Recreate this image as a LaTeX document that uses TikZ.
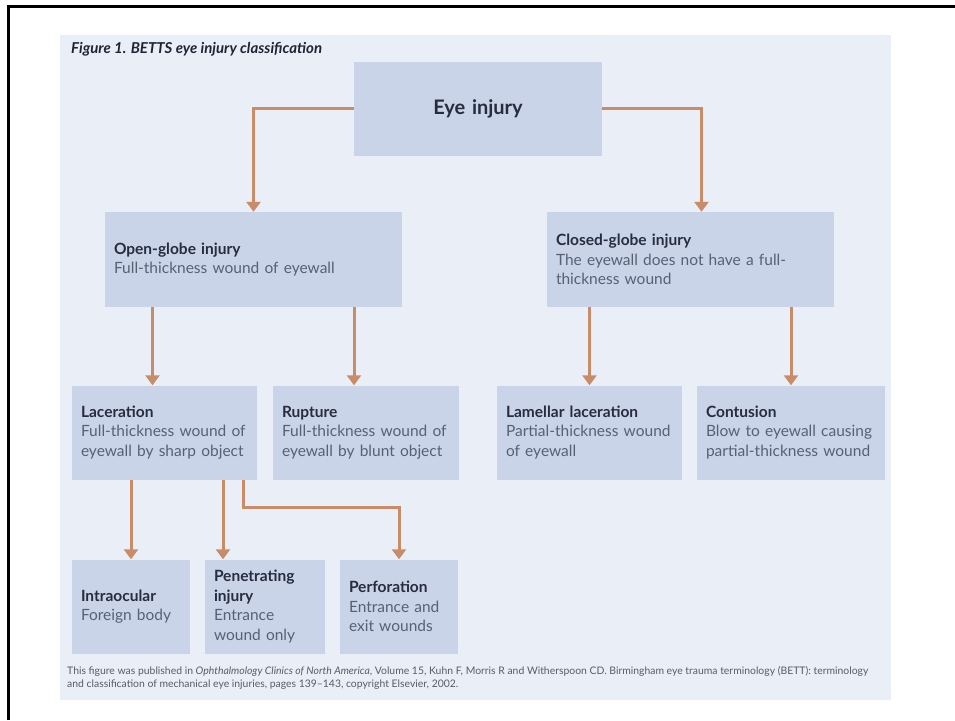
\documentclass[tikz,border=0pt]{standalone}
\usepackage{fontspec}
\setmainfont{Lato}
\usetikzlibrary{arrows.meta}
\definecolor{panelbg}{RGB}{234,238,246}
\definecolor{boxbg}{RGB}{201,212,232}
\definecolor{arrowc}{RGB}{200,140,104}
\definecolor{headc}{RGB}{40,44,64}
\definecolor{bodyc}{RGB}{88,96,116}
\definecolor{notec}{RGB}{90,92,100}
\tikzset{
  >={Triangle[width=14pt,length=10pt]},
  x=1pt, y=-1pt,
}
\tikzstyle{box}=[fill=boxbg,inner xsep=9pt,inner ysep=0pt,minimum height=94pt,align=left,text=bodyc,font=\fontsize{15.5}{19.5}\selectfont]
\tikzstyle{link}=[line width=3pt,arrowc,->]
\newcommand{\hd}[1]{\textbf{\color{headc}#1}}

\begin{document}
\begin{tikzpicture}
    \useasboundingbox (0,0) rectangle (955,720);
    \fill[panelbg] (60,35) rectangle (891,700);
    \draw[line width=3pt] (8,720)--(8,6.5)--(955,6.5);

    \node[anchor=base west,inner sep=0pt,text=headc!80!black,font=\fontsize{15}{18}\selectfont\bfseries\itshape] (title) at (71,53) {Figure 1. BETTS eye injury classification};

    \node[box,align=center,text width=230pt,text=headc,font=\fontsize{20}{24}\selectfont\bfseries] (eye) at (478,108.5) {Eye injury};

    \node[box,text width=279pt,minimum height=95pt] (open) at (253.5,259.5) {\hd{Open-globe injury}\\Full-thickness wound of eyewall};
    \node[box,text width=269pt,minimum height=95pt] (closed) at (690.5,259.5) {\hd{Closed-globe injury}\\The eyewall does not have a full-\\thickness wound};

    \node[box,text width=167pt] (lac) at (164.5,432.5) {\hd{Laceration}\\Full-thickness wound of\\eyewall by sharp object};
    \node[box,text width=168pt] (rup) at (366,432.5) {\hd{Rupture}\\Full-thickness wound of\\eyewall by blunt object};
    \node[box,text width=167pt] (lam) at (589.5,432.5) {\hd{Lamellar laceration}\\Partial-thickness wound\\of eyewall};
    \node[box,text width=170pt] (cont) at (791,432.5) {\hd{Contusion}\\Blow to eyewall causing\\partial-thickness wound};

    \node[box,text width=100pt] (intra) at (131,606.5) {\hd{Intraocular}\\Foreign body};
    \node[box,text width=102pt] (pen) at (265,606.5) {\hd{Penetrating}\\\hd{injury}\\Entrance\\wound only};
    \node[box,text width=100pt] (perf) at (399,606.5) {\hd{Perforation}\\Entrance and\\exit wounds};

    \node[anchor=north west,inner sep=0pt,align=left,text=notec,font=\fontsize{10.4}{12.8}\selectfont] (note) at (67,666) {This figure was published in \emph{Ophthalmology Clinics of North America}, Volume 15, Kuhn F, Morris R and Witherspoon CD. Birmingham eye trauma terminology (BETT): terminology\\and classification of mechanical eye injuries, pages 139--143, copyright Elsevier, 2002.};

    \draw[link] (eye.west) -| (open.north);
    \draw[link] (eye.east) -| ([xshift=11pt]closed.north);
    \draw[link] ([xshift=-12pt]lac.north |- open.south) -- ([xshift=-12pt]lac.north);
    \draw[link] ([xshift=-12pt]rup.north |- open.south) -- ([xshift=-12pt]rup.north);
    \draw[link] (lam.north |- closed.south) -- (lam.north);
    \draw[link] (cont.north |- closed.south) -- (cont.north);
    \draw[link] (intra.north |- lac.south) -- (intra.north);
    \draw[link] ([xshift=-42pt]pen.north |- lac.south) -- ([xshift=-42pt]pen.north);
    \draw[link] ([xshift=-14pt]lac.south east) -- ++(0,28) -| (perf.north);
\end{tikzpicture}
\end{document}
